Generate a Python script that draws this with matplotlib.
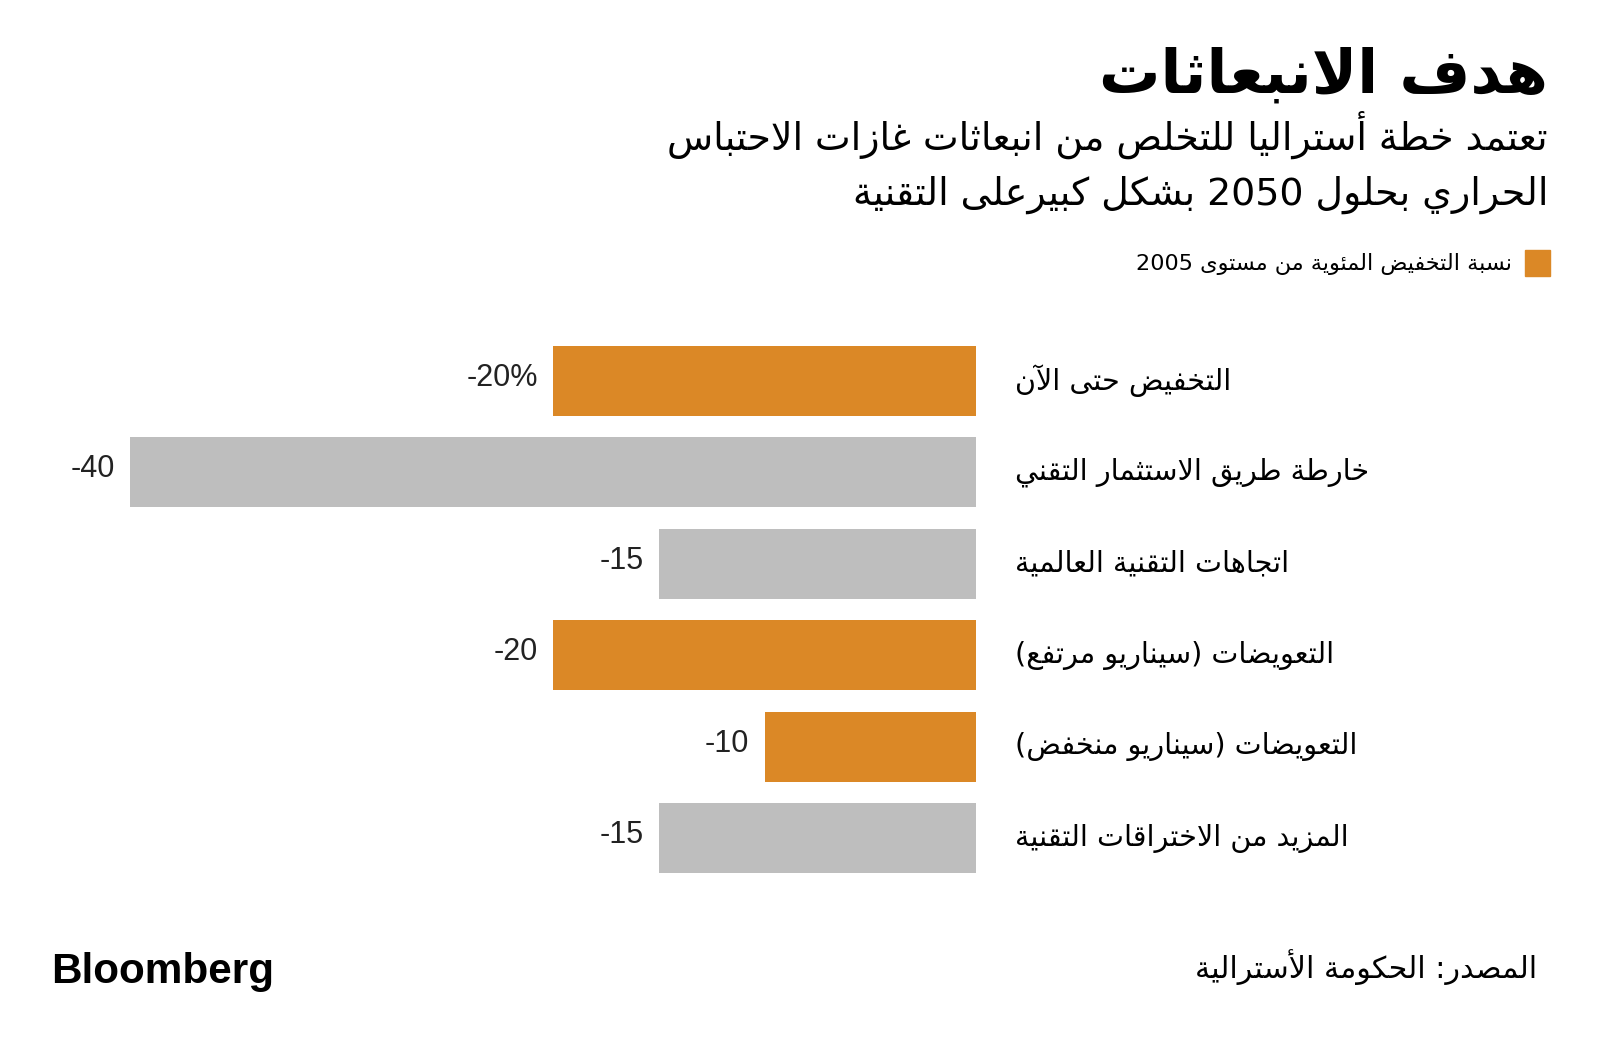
import re
import matplotlib
matplotlib.use('Agg')
import matplotlib.pyplot as plt

# --- data -------------------------------------------------------------
categories = [
    'التخفيض حتى الآن',
    'خارطة طريق الاستثمار التقني',
    'اتجاهات التقنية العالمية',
    'التعويضات (سيناريو مرتفع)',
    'التعويضات (سيناريو منخفض)',
    'المزيد من الاختراقات التقنية',
]
values = [-20, -40, -15, -20, -10, -15]
value_labels = ['-20%', '-40', '-15', '-20', '-10', '-15']
highlight = [True, False, False, True, True, False]

title = 'هدف الانبعاثات'
subtitle_1 = 'تعتمد خطة أستراليا للتخلص من انبعاثات غازات الاحتباس'
subtitle_2 = 'الحراري بحلول 2050 بشكل كبيرعلى التقنية'
legend_label = 'نسبة التخفيض المئوية من مستوى 2005'
source = 'المصدر: الحكومة الأسترالية'

ORANGE = '#DB8826'
GREY = '#BEBEBE'

# --- minimal arabic shaping (matplotlib has no complex text layout) -----
_letters = 'ءآأؤإئابةتثجحخدذرزسشصضطظعغفقكلمنهوىي'
_counts = [1, 2, 2, 2, 2, 4, 2, 4, 2, 4, 4, 4, 4, 4, 2, 2, 2, 2,
           4, 4, 4, 4, 4, 4, 4, 4, 4, 4, 4, 4, 4, 4, 4, 2, 2, 4]
FORMS = {}
_code = 0xFE80
for _c, _n in zip(_letters, _counts):
    FORMS[_c] = (_code, _n)
    _code += _n
LAM_ALEF = {'آ': 0xFEF5, 'أ': 0xFEF7, 'إ': 0xFEF9, 'ا': 0xFEFB}


def _joins_next(u):
    return len(u) == 1 and u in FORMS and FORMS[u][1] == 4


def _joins_prev(u):
    return len(u) == 2 or (u in FORMS and FORMS[u][1] >= 2)


def shape(s):
    units = []
    i = 0
    while i < len(s):
        if s[i] == 'ل' and i + 1 < len(s) and s[i + 1] in LAM_ALEF:
            units.append(s[i:i + 2])
            i += 2
        else:
            units.append(s[i])
            i += 1
    out = []
    for k, u in enumerate(units):
        prev = units[k - 1] if k > 0 else ''
        nxt = units[k + 1] if k + 1 < len(units) else ''
        jp = _joins_next(prev) and _joins_prev(u)
        jn = _joins_next(u) and _joins_prev(nxt)
        if len(u) == 2:
            out.append(chr(LAM_ALEF[u[1]] + (1 if jp else 0)))
        elif u in FORMS:
            base, n = FORMS[u]
            if n == 4:
                off = {(False, False): 0, (True, False): 1,
                       (False, True): 2, (True, True): 3}[(jp, jn)]
            elif n == 2:
                off = 1 if jp else 0
            else:
                off = 0
            out.append(chr(base + off))
        else:
            out.append(u)
    vis = ''.join(out)[::-1]
    vis = re.sub(r'[0-9A-Za-z.%]+', lambda m: m.group()[::-1], vis)
    vis = vis.translate(str.maketrans('()', ')('))
    return vis


# --- figure -------------------------------------------------------------
W, H = 1600, 1049
fig = plt.figure(figsize=(16, 10.49), dpi=100)
fig.patch.set_facecolor('white')


def fx(px):
    return px / W


def fy(py):
    return 1 - py / H


AR = ['DejaVu Sans']

fig.text(fx(1548), fy(93), shape(title), ha='right', va='baseline',
         fontsize=44, fontweight='bold', family=AR, color='black')
fig.text(fx(1548), fy(150), shape(subtitle_1), ha='right', va='baseline',
         fontsize=27.3, family=AR, color='black')
fig.text(fx(1548), fy(205), shape(subtitle_2), ha='right', va='baseline',
         fontsize=27.3, family=AR, color='black')

# legend
fig.patches.append(plt.Rectangle((fx(1525), fy(276)), fx(25), 26 / H,
                                 transform=fig.transFigure, color=ORANGE))
fig.text(fx(1512), fy(264), shape(legend_label), ha='right', va='center',
         fontsize=16.1, family=AR, color='black')

# bars
ax = fig.add_axes([fx(130), fy(884), fx(976) - fx(130), fy(335) - fy(884)])
ypos = list(range(len(categories)))
colors = [ORANGE if h else GREY for h in highlight]
ax.barh(ypos, values, height=0.76, color=colors)
ax.set_xlim(-40, 0)
ax.set_ylim(len(categories) - 0.5, -0.5)
ax.axis('off')

for y, v, lab in zip(ypos, values, value_labels):
    ax.annotate(lab, xy=(v, y), xytext=(-11, 2), textcoords='offset points',
                ha='right', va='center', fontsize=22,
                family=['Liberation Sans'], color='#222222')

for y, cat in zip(ypos, categories):
    ax.text(1.046, y, shape(cat), transform=ax.get_yaxis_transform(),
            ha='left', va='center', fontsize=20.6, family=AR, color='black')

# footer
fig.text(fx(51), fy(983), 'Bloomberg', ha='left', va='baseline',
         fontsize=30.4, fontweight='bold', family=['Liberation Sans'],
         color='black')
fig.text(fx(1537), fy(978), shape(source), ha='right', va='baseline',
         fontsize=21.7, family=AR, color='black')

fig.savefig('out.png', dpi=100, facecolor='white')
